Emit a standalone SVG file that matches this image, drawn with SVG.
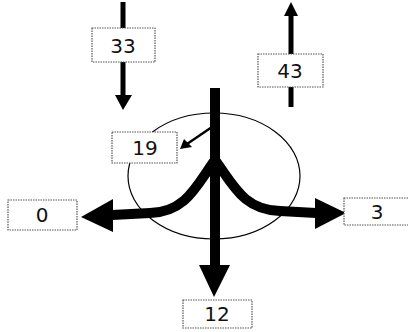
<svg xmlns="http://www.w3.org/2000/svg" width="408" height="332" viewBox="0 0 408 332">
<style>
.box{fill:#fff;stroke:#555;stroke-width:1.2;stroke-dasharray:1.5 1}
.lbl{font-family:"DejaVu Sans","Liberation Sans",sans-serif;font-size:20px;fill:#111;text-anchor:middle;dominant-baseline:central}
.thick{fill:none;stroke:#000;stroke-width:10;stroke-linecap:butt}
.med{fill:none;stroke:#000;stroke-width:5}
.thin{fill:none;stroke:#000;stroke-width:2.5}
.head{fill:#000}
</style>
<rect width="408" height="332" fill="#fff"/>
<ellipse cx="214" cy="176" rx="86" ry="63" fill="none" stroke="#000" stroke-width="1.2"/>
<g id="connectors">
<line class="med" x1="123" y1="2" x2="123" y2="96"/>
<polygon class="head" points="115,95 132,95 123,110"/>
<line class="med" x1="291" y1="14" x2="291" y2="107"/>
<polygon class="head" points="284,16 298,16 291,2"/>
<line class="thick" x1="215" y1="88" x2="215" y2="266"/>
<polygon class="head" points="199,265 230,265 214,297"/>
<path class="thick" d="M215,160 C196,186 186,212 150,213 L112,215"/>
<polygon class="head" points="113,199 113,232 81,217"/>
<path class="thick" d="M215,160 C234,186 244,210 280,211 L316,213"/>
<polygon class="head" points="315,198 315,229 346,213"/>
<line class="thin" x1="212" y1="127" x2="187" y2="144"/>
<polygon class="head" points="180,149 184,139 192,147"/>
</g>
<g id="n33"><rect class="box" x="92" y="28" width="63" height="34"/><text class="lbl" x="123" y="46">33</text></g>
<g id="n43"><rect class="box" x="258" y="54" width="65" height="33"/><text class="lbl" x="290" y="71">43</text></g>
<g id="n19"><rect class="box" x="112" y="132" width="65" height="31"/><text class="lbl" x="145" y="148">19</text></g>
<g id="n0"><rect class="box" x="8" y="200" width="69" height="30"/><text class="lbl" x="42" y="215">0</text></g>
<g id="n3"><rect class="box" x="344" y="198" width="70" height="27"/><text class="lbl" x="377" y="212">3</text></g>
<g id="n12"><rect class="box" x="183" y="300" width="69" height="28"/><text class="lbl" x="217" y="314">12</text></g>
</svg>
